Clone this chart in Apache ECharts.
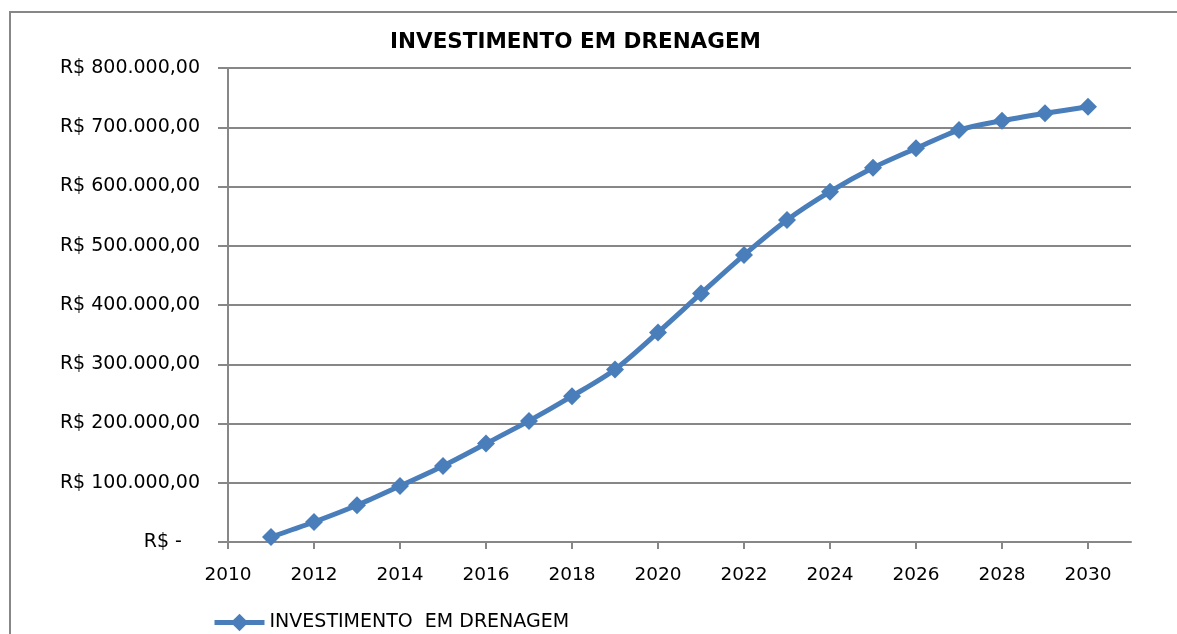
<!DOCTYPE html>
<html>
<head>
<meta charset="utf-8">
<script src="https://cdn.jsdelivr.net/npm/echarts@6/dist/echarts.min.js"></script>
<style>
  html, body { margin: 0; padding: 0; background: #fff; }
  #chart { width: 1177px; height: 634px; }
</style>
</head>
<body>
<div id="chart"></div>
<script>
// dados
const years = [2011, 2012, 2013, 2014, 2015, 2016, 2017, 2018, 2019, 2020,
               2021, 2022, 2023, 2024, 2025, 2026, 2027, 2028, 2029, 2030];
const investimento = [8400, 33800, 62000, 94600, 128400, 166200, 204400, 246100, 291200, 353700,
                      419500, 484200, 543300, 591200, 631700, 664400, 695300, 711100, 723500, 734700];
const xTicks = [2010, 2012, 2014, 2016, 2018, 2020, 2022, 2024, 2026, 2028, 2030];
const seriesName = 'INVESTIMENTO  EM DRENAGEM';
const titleText = 'INVESTIMENTO EM DRENAGEM';

const gray = '#878787';
const blue = '#4A7EBB';

function brl(v) {
  if (v === 0) return 'R$ -   ';
  const s = String(Math.round(v)).replace(/\B(?=(\d{3})+(?!\d))/g, '.');
  return 'R$ ' + s + ',00';
}

const chart = echarts.init(document.getElementById('chart'));

const option = {
  animation: false,
  textStyle: { fontFamily: 'DejaVu Sans' },
  title: {
    text: titleText,
    left: 390,
    top: 31,
    padding: 0,
    textStyle: { fontFamily: 'DejaVu Sans', fontWeight: 'bold', fontSize: 21.5, color: '#000' }
  },
  graphic: [{
    type: 'rect',
    shape: { x: 10, y: 12, width: 1400, height: 800 },
    style: { fill: 'none', stroke: gray, lineWidth: 2 },
    silent: true
  }],
  legend: {
    left: 212,
    top: 613,
    padding: 0,
    itemWidth: 50,
    itemHeight: 22,
    lineStyle: { width: 5 },
    textStyle: { fontSize: 19, color: '#000', fontFamily: 'DejaVu Sans' },
    data: [seriesName]
  },
  grid: { left: 228, right: 46, top: 68, bottom: 92, containLabel: false },
  xAxis: {
    type: 'value',
    min: 2010,
    max: 2031,
    interval: 2,
    axisLine: { lineStyle: { color: gray, width: 2 } },
    axisTick: { show: true, length: 7, lineStyle: { color: gray, width: 2 }, customValues: xTicks },
    axisLabel: { fontSize: 18.5, color: '#000', margin: 24, customValues: xTicks, formatter: v => String(v) },
    splitLine: { show: false }
  },
  yAxis: {
    type: 'value',
    min: 0,
    max: 800000,
    interval: 100000,
    axisLine: { show: true, lineStyle: { color: gray, width: 2 } },
    axisTick: { show: true, length: 10, lineStyle: { color: gray, width: 2 } },
    axisLabel: { fontSize: 19, color: '#000', margin: 28, formatter: brl },
    splitLine: { show: true, lineStyle: { color: gray, width: 2 } }
  },
  series: [{
    name: seriesName,
    type: 'line',
    data: years.map((y, i) => [y, investimento[i]]),
    smooth: 0.3,
    symbol: 'diamond',
    symbolSize: 18,
    lineStyle: { color: blue, width: 5 },
    itemStyle: { color: blue }
  }]
};

chart.setOption(option);
</script>
</body>
</html>
